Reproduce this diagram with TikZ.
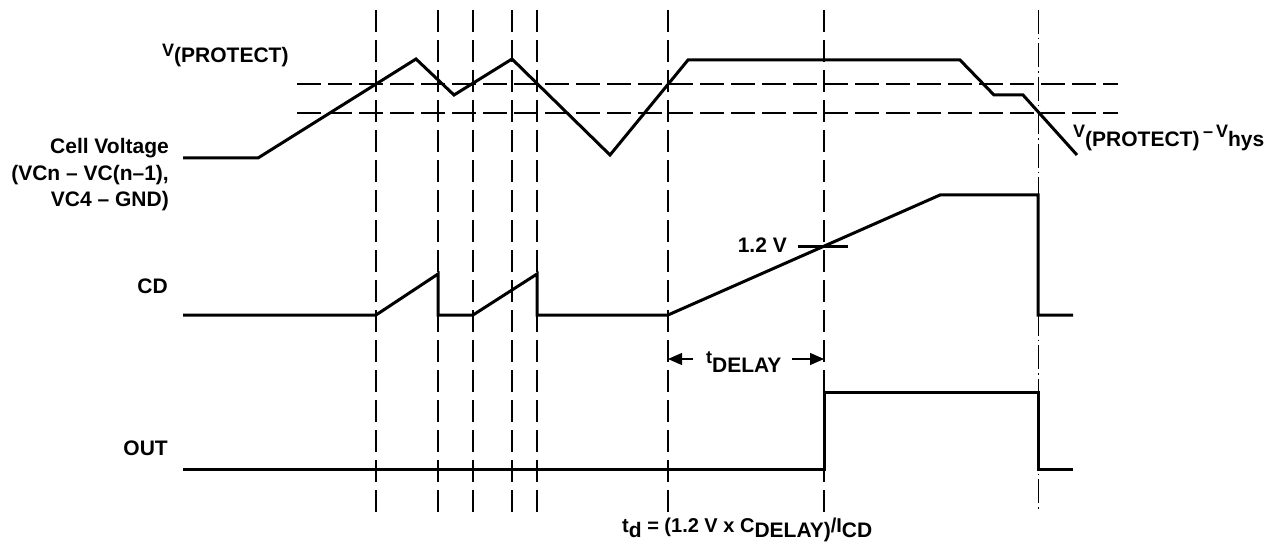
\documentclass[tikz,border=0pt]{standalone}
\usepackage{fontspec}
\setmainfont{Liberation Sans}
\usetikzlibrary{arrows.meta}
\newcommand{\bigf}{\fontsize{21}{24}\selectfont}
\newcommand{\smf}{\fontsize{18}{20}\selectfont}
\newcommand{\frmf}{\fontsize{20}{22}\selectfont}
\newcommand{\lowsub}[2]{\raisebox{-#1}{\bigf #2}}
\begin{document}
\begin{tikzpicture}[x=1pt,y=-1pt,
  lbl/.style={inner sep=0pt, font=\bfseries\bigf},
  wave/.style={line width=3pt, line join=miter, line cap=butt},
  vguide/.style={line width=1.3pt, dash pattern=on 22pt off 8pt},
  vdashdot/.style={line width=1pt, dash pattern=on 24pt off 4pt on 1.5pt off 4pt},
  hguide/.style={line width=1.3pt, dash pattern=on 24pt off 7pt},
  dimarrow/.style={line width=1.2pt, -{Triangle[length=14pt,width=12pt]}}]
\useasboundingbox (0,0) rectangle (1284,548);
\fill[white] (0,0) rectangle (1284,548);

% vertical guide lines
\foreach \x/\n in {376/a,438/b,473/c,512/d,537/e,668/f,824/g}{
  \coordinate (\n top) at (\x,10);
  \coordinate (\n bot) at (\x,512);
  \draw[vguide] (\n top) -- (\n bot);
}
\coordinate (htop) at (1038,10);
\coordinate (hbot) at (1038,512);
\draw[vdashdot] (htop) -- (hbot);

% horizontal threshold lines
\coordinate (p1) at (297,84);  \coordinate (p2) at (1118,84);
\coordinate (q1) at (297,113); \coordinate (q2) at (1118,113);
\draw[hguide] (p1) -- (p2);
\draw[hguide] (q1) -- (q2);

% cell voltage waveform
\draw[wave] (183,158) -- (258,158) -- (416,59) -- (454,95) -- (512,59)
  -- (610,155) -- (688,60) -- (960,60) -- (994,95) -- (1023,95) -- (1077,155);

% CD waveform
\draw[wave] (183,315) -- (376,315) -- (438,274) -- (438,315) -- (473,315)
  -- (537,274) -- (537,315) -- (668,315) -- (940,195) -- (1038,195)
  -- (1038,315) -- (1073,315);
% 1.2 V tick
\coordinate (t1) at (798,246); \coordinate (t2) at (848,246);
\draw[line width=3pt] (t1) -- (t2);

% OUT waveform
\draw[wave] (183,469) -- (824,469) -- (824,392) -- (1038,392) -- (1038,469) -- (1073,469);

% labels
\node[lbl, anchor=base west] (vprot) at (162,63)
  {\raisebox{6pt}{\smf V}(PROTECT)};
\node[lbl, anchor=base east] (cv1) at (169,154) {Cell Voltage};
\node[lbl, anchor=base east] (cv2) at (169,181) {(VCn – VC(n–1),};
\node[lbl, anchor=base east] (cv3) at (169,207) {VC4 – GND)};
\node[lbl, anchor=base east] (cd) at (168,293) {CD};
\node[lbl, anchor=base east] (out) at (168,455) {OUT};
\node[lbl, anchor=base east] (v12) at (787,252) {1.2 V};
\node[lbl, anchor=base west] (vhys) at (1073,147)
  {\raisebox{9pt}{\smf V}(PROTECT)\,\raisebox{9pt}{\smf –\,V}hys};

% t_DELAY
\node[lbl, anchor=base west] (tdel) at (706,363)
  {\smf t\lowsub{9pt}{DELAY}};
\coordinate (dl) at (668,359); \coordinate (dr) at (824,359);
\coordinate (dla) at (693,359); \coordinate (dra) at (792,359);
\draw[dimarrow] (dla) -- (dl);
\draw[dimarrow] (dra) -- (dr);

% formula
\node[lbl, anchor=base west, font=\bfseries\frmf] (form) at (622,532)
  {t\lowsub{5pt}{d} = (1.2 V x C\lowsub{5pt}{DELAY)}/I\lowsub{5pt}{CD}};
\end{tikzpicture}
\end{document}
